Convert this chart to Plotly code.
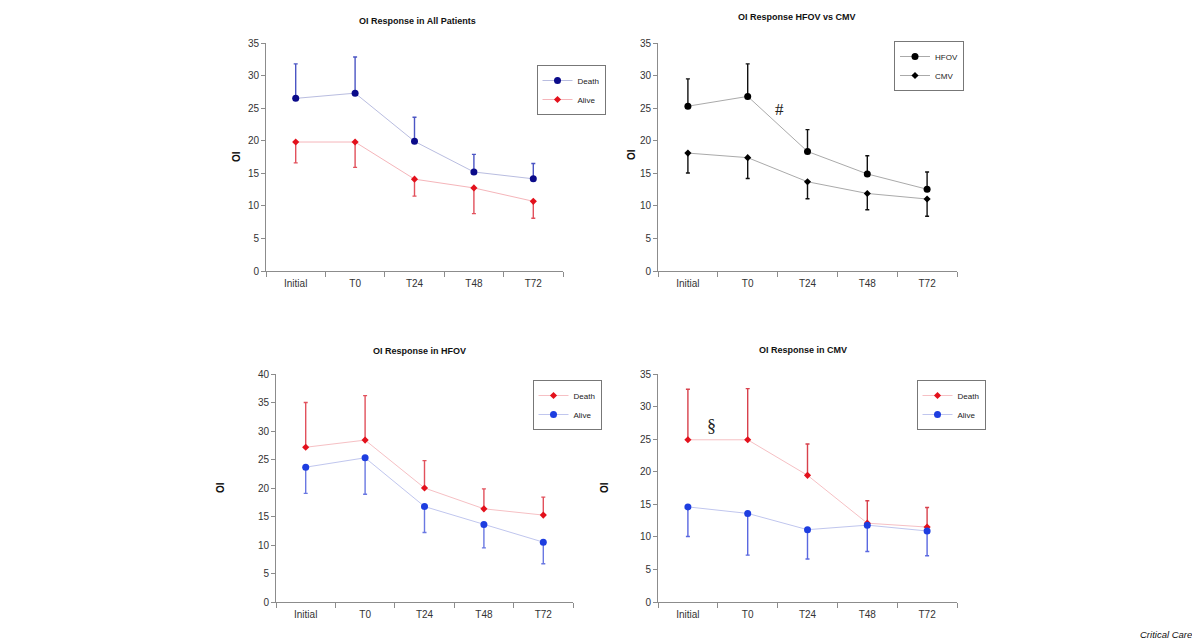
import plotly.graph_objects as go

W, H = 1200, 642
OFF = 8  # page body margin offset compensation

categories = ["Initial", "T0", "T24", "T48", "T72"]

# Panel 1: OI Response in All Patients
all_death = [26.5, 27.3, 19.9, 15.2, 14.15]
all_death_err_up = [5.3, 5.55, 3.7, 2.7, 2.35]
all_alive = [19.8, 19.8, 14.1, 12.75, 10.7]
all_alive_err_down = [3.2, 3.9, 2.6, 3.95, 2.6]

# Panel 2: OI Response HFOV vs CMV
hfov = [25.3, 26.8, 18.35, 14.9, 12.55]
hfov_err_up = [4.2, 5.0, 3.35, 2.8, 2.65]
cmv = [18.1, 17.4, 13.7, 11.9, 11.05]
cmv_err_down = [3.05, 3.2, 2.6, 2.5, 2.65]

# Panel 3: OI Response in HFOV
hfov_death = [27.15, 28.4, 20.0, 16.35, 15.25]
hfov_death_err_up = [7.85, 7.8, 4.8, 3.5, 3.15]
hfov_alive = [23.65, 25.3, 16.75, 13.6, 10.5]
hfov_alive_err_down = [4.6, 6.4, 4.55, 4.1, 3.8]

# Panel 4: OI Response in CMV
cmv_death = [24.9, 24.9, 19.45, 12.1, 11.5]
cmv_death_err_up = [7.75, 7.85, 4.8, 3.45, 3.0]
cmv_alive = [14.6, 13.6, 11.1, 11.8, 10.9]
cmv_alive_err_down = [4.55, 6.4, 4.5, 4.05, 3.8]

FONT = "Liberation Sans, Arial, sans-serif"
NAVY = "#0b0b8a"
RED = "#e3111c"
BLUE = "#1e3ee0"


def px_x(p):
    return (p - OFF) / W


def px_y(p):
    return 1 - (p - OFF) / H


def up(vals):
    return dict(type="data", symmetric=False, array=vals, arrayminus=[0] * len(vals))


def down(vals):
    return dict(type="data", symmetric=False, array=[0] * len(vals), arrayminus=vals)


fig = go.Figure()


def add(xa, ya, y, name, mcolor, lcolor, ecolor, symbol, size, err, legend):
    e = dict(err)
    e.update(color=ecolor, thickness=1.4, width=2)
    fig.add_trace(go.Scatter(
        x=categories, y=y, name=name, mode="lines+markers",
        xaxis=xa, yaxis=ya, legend=legend,
        line=dict(color=lcolor, width=1),
        marker=dict(color=mcolor, symbol=symbol, size=size),
        error_y=e,
    ))


# Panel 1
add("x", "y", all_death, "Death", NAVY, "#b9bde0", "#4b55c4", "circle", 7, up(all_death_err_up), "legend")
add("x", "y", all_alive, "Alive", RED, "#f5b5ba", "#e2515c", "diamond", 5.5, down(all_alive_err_down), "legend")
# Panel 2
add("x2", "y2", hfov, "HFOV", "#000000", "#aaaaaa", "#111111", "circle", 7, up(hfov_err_up), "legend2")
add("x2", "y2", cmv, "CMV", "#000000", "#aaaaaa", "#111111", "diamond", 5.5, down(cmv_err_down), "legend2")
# Panel 3
add("x3", "y3", hfov_death, "Death", RED, "#f6c0c4", "#e2515c", "diamond", 5.5, up(hfov_death_err_up), "legend3")
add("x3", "y3", hfov_alive, "Alive", BLUE, "#c0c6ee", "#6a78e2", "circle", 7, down(hfov_alive_err_down), "legend3")
# Panel 4
add("x4", "y4", cmv_death, "Death", RED, "#f6c0c4", "#d8414c", "diamond", 5.5, up(cmv_death_err_up), "legend4")
add("x4", "y4", cmv_alive, "Alive", BLUE, "#c0c6ee", "#5a68e0", "circle", 7, down(cmv_alive_err_down), "legend4")

AX = "#8c8c8c"


def xaxis(x0, x1, anchor):
    return dict(domain=[px_x(x0), px_x(x1)], anchor=anchor, type="category",
                range=[-0.5, 4.5], showline=True, linecolor=AX, linewidth=1,
                ticks="outside", tickson="boundaries", ticklen=5, tickcolor=AX,
                showgrid=False, zeroline=False, automargin=False, ticklabelstandoff=3,
                tickfont=dict(family=FONT, size=10, color="#333333"),
                fixedrange=True)


def yaxis(y0, y1, top, anchor):
    return dict(domain=[px_y(y0), px_y(y1)], anchor=anchor, range=[0, top], dtick=5,
                showline=True, linecolor=AX, linewidth=1, ticks="outside", ticklen=4,
                tickcolor=AX, showgrid=False, zeroline=False, automargin=False,
                tickfont=dict(family=FONT, size=10, color="#333333"),
                fixedrange=True)


def legend(cx, cy):
    return dict(x=px_x(cx), y=px_y(cy), xanchor="center", yanchor="middle",
                bordercolor="#777777", borderwidth=1, bgcolor="white",
                font=dict(family=FONT, size=8, color="#222222"),
                itemwidth=30, tracegroupgap=0, itemsizing="trace")


annotations = []


def text(xp, yp, s, size=9, angle=0, bold=True, italic=False):
    t = f"<b>{s}</b>" if bold else s
    if italic:
        t = f"<i>{t}</i>"
    annotations.append(dict(x=px_x(xp), y=px_y(yp), xref="paper", yref="paper", text=t,
                            showarrow=False, textangle=angle,
                            font=dict(family=FONT, size=size, color="#111111"),
                            xanchor="center", yanchor="middle"))


text(417, 21, "OI Response in All Patients")
text(797, 17, "OI Response HFOV vs CMV")
text(419, 351, "OI Response in HFOV")
text(803, 350, "OI Response in CMV")
text(237, 157, "OI", size=10, angle=-90)
text(632, 155, "OI", size=10, angle=-90)
text(220, 488, "OI", size=10, angle=-90)
text(604, 488, "OI", size=10, angle=-90)
text(1166, 634, "Critical Care", size=9.5, bold=False, italic=True)

# Significance markers in data coordinates
annotations.append(dict(x=1.53, y=24.8, xref="x2", yref="y2", text="#", showarrow=False,
                        font=dict(family="Liberation Serif, Times New Roman, serif", size=17, color="#222222")))
annotations.append(dict(x=0.39, y=27.0, xref="x4", yref="y4", text="§", showarrow=False,
                        font=dict(family="Liberation Serif, Times New Roman, serif", size=18, color="#222222")))

fig.update_layout(
    width=W, height=H, autosize=False,
    margin=dict(l=0, r=0, t=0, b=0, autoexpand=False),
    paper_bgcolor="white", plot_bgcolor="white",
    showlegend=True,
    xaxis=xaxis(266, 563, "y"),
    yaxis=yaxis(271, 43, 35, "x"),
    xaxis2=xaxis(658, 957, "y2"),
    yaxis2=yaxis(271, 43, 35, "x2"),
    xaxis3=xaxis(276, 573, "y3"),
    yaxis3=yaxis(602, 374, 40, "x3"),
    xaxis4=xaxis(658, 957, "y4"),
    yaxis4=yaxis(602, 374, 35, "x4"),
    legend=legend(571, 90),
    legend2=legend(929, 66),
    legend3=legend(567, 405),
    legend4=legend(951, 405),
    annotations=annotations,
)

fig.write_html("out.html")
